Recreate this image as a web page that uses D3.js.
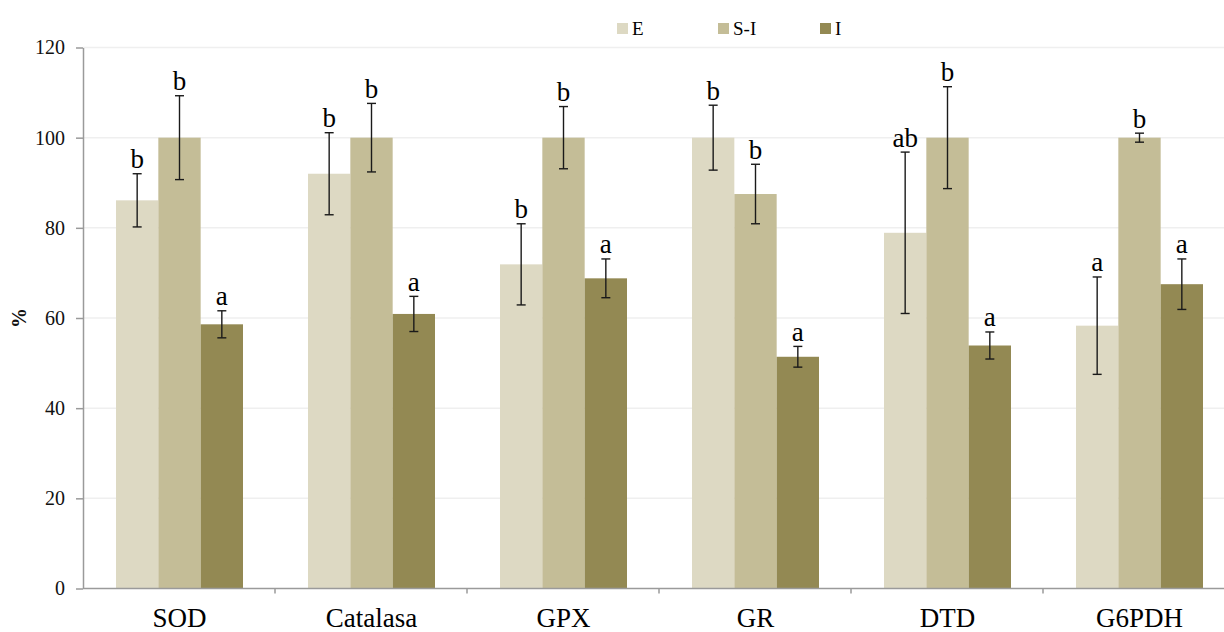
<!DOCTYPE html>
<html>
<head>
<meta charset="utf-8">
<script src="https://cdn.jsdelivr.net/npm/d3@7"></script>
<style>
  html, body { margin: 0; padding: 0; background: #fff; }
  svg { display: block; }
  svg text { font-family: "Liberation Serif", "Times New Roman", Times, serif; }
</style>
</head>
<body>
<svg id="chart" width="1224" height="632"></svg>
<script>
const categories = ["SOD", "Catalasa", "GPX", "GR", "DTD", "G6PDH"];
const seriesNames = ["E", "S-I", "I"];
const valuesE  = [86.1, 92.0, 71.9, 100, 78.9, 58.3];
const valuesSI = [100, 100, 100, 87.5, 100, 100];
const valuesI  = [58.6, 60.9, 68.8, 51.4, 53.9, 67.5];
const errE  = [5.9, 9.1, 9.0, 7.2, 17.9, 10.8];
const errSI = [9.3, 7.6, 6.9, 6.6, 11.3, 1.0];
const errI  = [3.0, 3.9, 4.3, 2.3, 3.0, 5.6];
const lettersE  = ["b", "b", "b", "b", "ab", "a"];
const lettersSI = ["b", "b", "b", "b", "b", "b"];
const lettersI  = ["a", "a", "a", "a", "a", "a"];
const yTicks = [0, 20, 40, 60, 80, 100, 120];
const colors = ["#DDD9C3", "#C4BD97", "#938953"];

const seriesValues = [valuesE, valuesSI, valuesI];
const seriesErr = [errE, errSI, errI];
const seriesLetters = [lettersE, lettersSI, lettersI];

const svg = d3.select("#chart");
const mLeft = 83, mTop = 47.5, mBottom = 588.5;
const bandW = 192;

const x0 = d3.scaleBand().domain(categories).range([mLeft, mLeft + bandW * categories.length]).padding(0);
const x1 = d3.scaleBand().domain(seriesNames).range([33, 160]).padding(0);
const y = d3.scaleLinear().domain([0, 120]).range([mBottom, mTop]);

// gridlines
svg.append("g").selectAll("line").data(yTicks.filter(d => d > 0)).join("line")
  .attr("x1", mLeft).attr("x2", 1224)
  .attr("y1", d => y(d)).attr("y2", d => y(d))
  .attr("stroke", "#efefef").attr("stroke-width", 1.5);

// bars
const data = [];
categories.forEach((c, i) => {
  seriesNames.forEach((s, j) => {
    data.push({cat: c, s: s, j: j, v: seriesValues[j][i], e: seriesErr[j][i], l: seriesLetters[j][i]});
  });
});

svg.append("g").selectAll("rect").data(data).join("rect")
  .attr("x", d => x0(d.cat) + x1(d.s))
  .attr("width", x1.bandwidth())
  .attr("y", d => y(d.v))
  .attr("height", d => y(0) - y(d.v))
  .attr("fill", d => colors[d.j]);

// error bars
const eg = svg.append("g").attr("stroke", "#1a1a1a").attr("stroke-width", 1.4);
data.forEach(d => {
  const cx = x0(d.cat) + x1(d.s) + x1.bandwidth() / 2;
  const yt = y(d.v + d.e), yb = y(d.v - d.e);
  eg.append("line").attr("x1", cx).attr("x2", cx).attr("y1", yt).attr("y2", yb);
  eg.append("line").attr("x1", cx - 4.5).attr("x2", cx + 4.5).attr("y1", yt).attr("y2", yt);
  eg.append("line").attr("x1", cx - 4.5).attr("x2", cx + 4.5).attr("y1", yb).attr("y2", yb);
});

// significance letters
svg.append("g").selectAll("text").data(data).join("text")
  .attr("x", d => x0(d.cat) + x1(d.s) + x1.bandwidth() / 2)
  .attr("y", d => y(d.v + d.e) - 5.5)
  .attr("text-anchor", "middle")
  .attr("font-size", 27)
  .attr("fill", "#000")
  .text(d => d.l);

// y axis
const yAxis = svg.append("g").attr("transform", `translate(${mLeft},0)`)
  .call(d3.axisLeft(y).tickValues(yTicks).tickSize(7).tickPadding(11).tickSizeOuter(0));
yAxis.attr("font-family", null);
yAxis.select(".domain").attr("stroke", "#9a9a9a").attr("stroke-width", 1.5);
yAxis.selectAll(".tick line").attr("stroke", "#9a9a9a").attr("stroke-width", 1.5);
yAxis.selectAll(".tick text")
  .attr("font-size", 20).attr("fill", "#111");

// x axis
const xAxis = svg.append("g").attr("transform", `translate(0,${mBottom})`);
xAxis.append("line").attr("x1", mLeft).attr("x2", 1224).attr("y1", 0).attr("y2", 0)
  .attr("stroke", "#9a9a9a").attr("stroke-width", 1.5);
xAxis.selectAll("line.tk").data(categories.slice(1)).join("line").attr("class", "tk")
  .attr("x1", d => x0(d)).attr("x2", d => x0(d)).attr("y1", 0).attr("y2", 5)
  .attr("stroke", "#9a9a9a").attr("stroke-width", 1.5);
xAxis.selectAll("text").data(categories).join("text")
  .attr("x", d => x0(d) + 96.5)
  .attr("y", 38.5)
  .attr("text-anchor", "middle")
  .attr("font-size", 27).attr("fill", "#000")
  .text(d => d);

// y axis title
svg.append("text")
  .attr("transform", "translate(26,318) rotate(-90)")
  .attr("text-anchor", "middle")
  .attr("font-weight", "bold")
  .attr("font-size", 20).attr("fill", "#111")
  .text("%");

// legend
const legX = [617, 718, 820];
const leg = svg.append("g");
seriesNames.forEach((s, j) => {
  leg.append("rect").attr("x", legX[j]).attr("y", 23).attr("width", 11).attr("height", 11).attr("fill", colors[j]);
  leg.append("text").attr("x", legX[j] + 15).attr("y", 34.5)
    .attr("font-size", 19).attr("fill", "#000").text(s);
});
</script>
</body>
</html>
